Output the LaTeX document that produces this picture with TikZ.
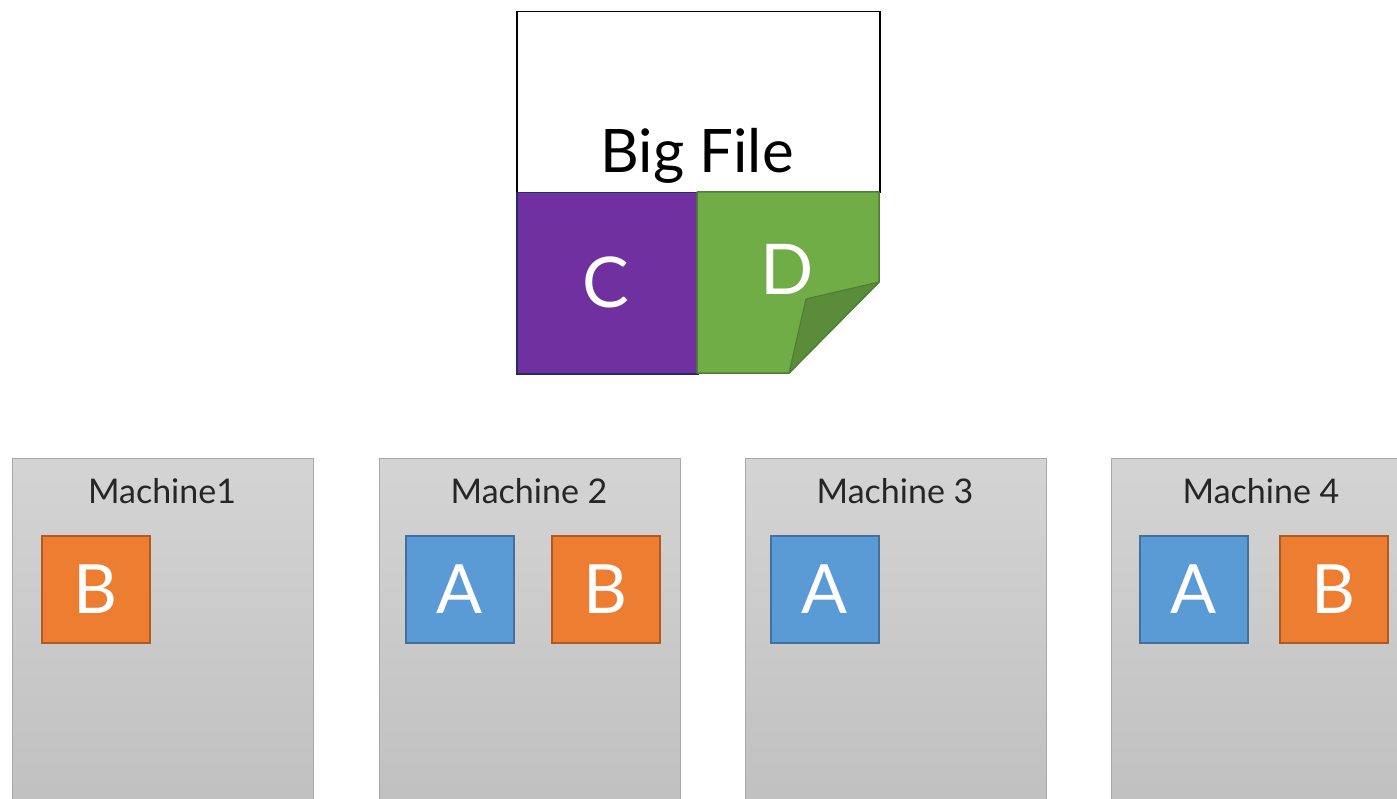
\documentclass[tikz,border=0pt]{standalone}
\usepackage{fontspec}
\setmainfont{Lato}
\definecolor{purp}{HTML}{7030A0}
\definecolor{purpedge}{HTML}{1F2D64}
\definecolor{grn}{HTML}{70AD47}
\definecolor{grnedge}{HTML}{507E32}
\definecolor{grnflap}{HTML}{5A8C3A}
\definecolor{orng}{HTML}{ED7D31}
\definecolor{orngedge}{HTML}{AE5A21}
\definecolor{blu}{HTML}{5B9BD5}
\definecolor{bluedge}{HTML}{41719C}
\definecolor{mtop}{HTML}{D4D4D4}
\definecolor{mbot}{HTML}{C0C0C0}
\definecolor{medge}{HTML}{A8A8A8}
\tikzset{
  machine/.style={draw=medge, line width=1.2pt, top color=mtop, bottom color=mbot,
    minimum width=301pt, minimum height=350pt, anchor=north west, inner sep=0pt},
  mlabel/.style={anchor=base, font=\fontsize{34}{34}\selectfont, text=black!85},
  chunk/.style={line width=1.5pt, minimum width=108pt, minimum height=107pt,
    anchor=north west, inner sep=0pt, text=white, font=\fontsize{68}{68}\selectfont},
  ablock/.style={chunk, draw=bluedge, fill=blu},
  bblock/.style={chunk, draw=orngedge, fill=orng},
}
\begin{document}
\begin{tikzpicture}[x=1pt,y=-1pt]
\useasboundingbox (0,0) rectangle (1397,799);
\clip (0,0) rectangle (1397,799);
\fill[white] (0,0) rectangle (1397,799);

% the big file with its two visible chunks
\node[draw=black, line width=1.5pt, minimum width=363pt, minimum height=181pt,
      anchor=north west, inner sep=0pt] (file) at (516,11) {};
\node[anchor=base, font=\fontsize{60}{60}\selectfont] (filelbl) at (697,173) {Big File};
\node[draw=purpedge, fill=purp, line width=1.5pt, minimum width=181pt, minimum height=181pt,
      anchor=north west, inner sep=0pt] (c) at (516,192) {};
\node[anchor=base, text=white, font=\fontsize{70}{70}\selectfont] (clbl) at (606,308) {C};
% chunk D with a curled corner
\coordinate (dtl) at (697,192);
\coordinate (dtr) at (879,192);
\coordinate (dcr) at (879,282);
\coordinate (dbc) at (789,373);
\coordinate (dbl) at (697,373);
\coordinate (fold) at (806,299);
\filldraw[fill=grn, draw=grnedge, line width=1.5pt, line join=round]
  (dtl) -- (dtr) -- (dcr) -- (dbc) -- (dbl) -- cycle;
\filldraw[fill=grnflap, draw=grnedge, line width=1.2pt, line join=round]
  (dcr) -- (fold) -- (dbc) -- cycle;
\node[anchor=base, text=white, font=\fontsize{70}{70}\selectfont] (dlbl) at (787,295) {D};

% machines
\node[machine] (m1) at (12,458) {};
\node[machine] (m2) at (379,458) {};
\node[machine] (m3) at (745,458) {};
\node[machine] (m4) at (1111,458) {};
\node[mlabel] (m1lbl) at (162,503) {Machine1};
\node[mlabel] (m2lbl) at (529,503) {Machine 2};
\node[mlabel] (m3lbl) at (895,503) {Machine 3};
\node[mlabel] (m4lbl) at (1261,503) {Machine 4};

% chunks stored on each machine
\node[bblock] (m1b) at (41,535) {B};
\node[ablock] (m2a) at (405,535) {A};
\node[bblock] (m2b) at (551,535) {B};
\node[ablock] (m3a) at (770,535) {A};
\node[ablock] (m4a) at (1139,535) {A};
\node[bblock] (m4b) at (1279,535) {B};
\end{tikzpicture}
\end{document}
